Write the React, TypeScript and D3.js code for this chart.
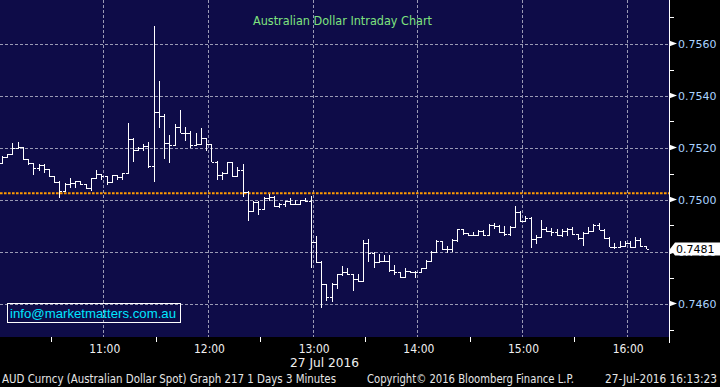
import React from 'react';
import * as d3 from 'd3';

// AUD/USD, 27 Jul 2016, 3 minute bars starting 10:00
const BAR_START = new Date(2016, 6, 27, 10, 0);
const BAR_MINUTES = 3;

const opens = [
  0.75139, 0.75165, 0.75174, 0.75199, 0.75201, 0.75155, 0.75139, 0.75120, 0.75133, 0.75117,
  0.75090, 0.75068, 0.75034, 0.75060, 0.75062, 0.75071, 0.75058, 0.75043, 0.75082, 0.75098,
  0.75090, 0.75068, 0.75094, 0.75085, 0.75101, 0.75232, 0.75190, 0.75199, 0.75206, 0.75130,
  0.75335, 0.75321, 0.75216, 0.75210, 0.75280, 0.75257, 0.75255, 0.75210, 0.75213, 0.75235,
  0.75212, 0.75145, 0.75094, 0.75101, 0.75143, 0.75092, 0.75113, 0.75030, 0.74956, 0.74992,
  0.74963, 0.75007, 0.75011, 0.74975, 0.74983, 0.74994, 0.74983, 0.74982, 0.74998, 0.74994,
  0.74835, 0.74758, 0.74675, 0.74626, 0.74675, 0.74712, 0.74722, 0.74713, 0.74693, 0.74688,
  0.74832, 0.74795, 0.74758, 0.74763, 0.74765, 0.74728, 0.74720, 0.74701, 0.74725, 0.74722,
  0.74722, 0.74735, 0.74765, 0.74797, 0.74840, 0.74808, 0.74808, 0.74844, 0.74885, 0.74870,
  0.74862, 0.74862, 0.74879, 0.74863, 0.74902, 0.74899, 0.74874, 0.74866, 0.74893, 0.74953,
  0.74917, 0.74930, 0.74847, 0.74857, 0.74885, 0.74879, 0.74874, 0.74863, 0.74880, 0.74887,
  0.74867, 0.74853, 0.74870, 0.74880, 0.74902, 0.74883, 0.74853, 0.74818, 0.74818, 0.74822,
  0.74834, 0.74816, 0.74844, 0.74821,
];
const highs = [
  0.75167, 0.75174, 0.75216, 0.75221, 0.75201, 0.75155, 0.75139, 0.75135, 0.75135, 0.75117,
  0.75090, 0.75068, 0.75060, 0.75082, 0.75071, 0.75071, 0.75058, 0.75082, 0.75113, 0.75098,
  0.75090, 0.75094, 0.75094, 0.75101, 0.75293, 0.75233, 0.75201, 0.75212, 0.75221, 0.75665,
  0.75453, 0.75328, 0.75248, 0.75289, 0.75344, 0.75278, 0.75261, 0.75255, 0.75274, 0.75235,
  0.75212, 0.75148, 0.75105, 0.75143, 0.75143, 0.75124, 0.75133, 0.75030, 0.74992, 0.74992,
  0.75008, 0.75020, 0.75013, 0.74985, 0.74994, 0.75005, 0.74998, 0.74998, 0.75005, 0.75013,
  0.74857, 0.74761, 0.74675, 0.74678, 0.74713, 0.74742, 0.74733, 0.74713, 0.74713, 0.74844,
  0.74847, 0.74795, 0.74787, 0.74783, 0.74783, 0.74745, 0.74720, 0.74735, 0.74725, 0.74725,
  0.74735, 0.74767, 0.74799, 0.74842, 0.74840, 0.74818, 0.74847, 0.74885, 0.74885, 0.74870,
  0.74872, 0.74880, 0.74880, 0.74902, 0.74908, 0.74899, 0.74895, 0.74895, 0.74975, 0.74953,
  0.74934, 0.74930, 0.74860, 0.74921, 0.74892, 0.74887, 0.74883, 0.74883, 0.74889, 0.74893,
  0.74867, 0.74872, 0.74893, 0.74905, 0.74906, 0.74883, 0.74853, 0.74832, 0.74838, 0.74840,
  0.74840, 0.74853, 0.74851, 0.74821,
];
const lows = [
  0.75139, 0.75165, 0.75174, 0.75199, 0.75152, 0.75133, 0.75097, 0.75110, 0.75105, 0.75090,
  0.75065, 0.75008, 0.75034, 0.75047, 0.75047, 0.75056, 0.75043, 0.75034, 0.75082, 0.75078,
  0.75058, 0.75065, 0.75078, 0.75078, 0.75101, 0.75145, 0.75188, 0.75187, 0.75122, 0.75068,
  0.75278, 0.75158, 0.75142, 0.75210, 0.75257, 0.75226, 0.75199, 0.75210, 0.75212, 0.75188,
  0.75145, 0.75078, 0.75078, 0.75101, 0.75090, 0.75092, 0.75013, 0.74918, 0.74956, 0.74944,
  0.74963, 0.74995, 0.74972, 0.74968, 0.74972, 0.74982, 0.74979, 0.74982, 0.74992, 0.74739,
  0.74758, 0.74584, 0.74611, 0.74607, 0.74658, 0.74706, 0.74713, 0.74649, 0.74684, 0.74684,
  0.74763, 0.74738, 0.74758, 0.74761, 0.74725, 0.74713, 0.74701, 0.74701, 0.74720, 0.74701,
  0.74722, 0.74735, 0.74765, 0.74795, 0.74808, 0.74795, 0.74799, 0.74840, 0.74866, 0.74861,
  0.74862, 0.74862, 0.74862, 0.74861, 0.74889, 0.74872, 0.74861, 0.74863, 0.74893, 0.74915,
  0.74917, 0.74815, 0.74832, 0.74857, 0.74876, 0.74863, 0.74861, 0.74857, 0.74863, 0.74866,
  0.74848, 0.74822, 0.74870, 0.74876, 0.74883, 0.74851, 0.74818, 0.74810, 0.74815, 0.74822,
  0.74815, 0.74816, 0.74821, 0.74810,
];
const closes = [
  0.75165, 0.75174, 0.75199, 0.75201, 0.75155, 0.75139, 0.75120, 0.75133, 0.75117, 0.75090,
  0.75068, 0.75034, 0.75060, 0.75062, 0.75071, 0.75058, 0.75043, 0.75082, 0.75098, 0.75090,
  0.75068, 0.75094, 0.75085, 0.75101, 0.75232, 0.75190, 0.75199, 0.75206, 0.75130, 0.75335,
  0.75321, 0.75216, 0.75210, 0.75280, 0.75257, 0.75255, 0.75210, 0.75213, 0.75235, 0.75212,
  0.75145, 0.75094, 0.75101, 0.75143, 0.75092, 0.75113, 0.75030, 0.74956, 0.74992, 0.74963,
  0.75007, 0.75011, 0.74975, 0.74983, 0.74994, 0.74983, 0.74982, 0.74998, 0.74994, 0.74835,
  0.74758, 0.74675, 0.74626, 0.74675, 0.74712, 0.74722, 0.74713, 0.74693, 0.74688, 0.74832,
  0.74795, 0.74758, 0.74763, 0.74765, 0.74728, 0.74720, 0.74701, 0.74725, 0.74722, 0.74722,
  0.74735, 0.74765, 0.74797, 0.74840, 0.74808, 0.74808, 0.74844, 0.74885, 0.74870, 0.74862,
  0.74862, 0.74879, 0.74863, 0.74902, 0.74899, 0.74874, 0.74866, 0.74893, 0.74953, 0.74917,
  0.74930, 0.74847, 0.74857, 0.74885, 0.74879, 0.74874, 0.74863, 0.74880, 0.74887, 0.74867,
  0.74853, 0.74870, 0.74880, 0.74902, 0.74883, 0.74853, 0.74818, 0.74818, 0.74822, 0.74834,
  0.74816, 0.74844, 0.74821, 0.74810,
];

const PREV_CLOSE = 0.75024;
const LAST_PRICE = 0.7481;

const hourTicks = ['11:00', '12:00', '13:00', '14:00', '15:00', '16:00'];
const halfHourTicks = ['10:30', '11:30', '12:30', '13:30', '14:30', '15:30'];
const priceTicks = [0.746, 0.748, 0.75, 0.752, 0.754, 0.756];
const priceMinorTicks = [0.745, 0.747, 0.749, 0.751, 0.753, 0.755, 0.757];

const TITLE = 'Australian Dollar Intraday Chart';
const DATE_LABEL = '27 Jul 2016';
const EMAIL = 'info@marketmatters.com.au';
const FOOT_LEFT = 'AUD Curncy (Australian Dollar Spot) Graph 217 1 Days 3 Minutes';
const FOOT_MID = 'Copyright\u00a9 2016 Bloomberg Finance L.P.';
const FOOT_RIGHT = '27-Jul-2016 16:13:23';

const W = 720;
const H = 387;
const PLOT_R = 669;
const PLOT_B = 337;

const NAVY = '#0e0c48';
const GRID = '#9a9ab4';

const parseHM = (s: string) => {
  const [h, m] = s.split(':').map(Number);
  return new Date(2016, 6, 27, h, m);
};

const App = () => {
  const x = d3
    .scaleTime()
    .domain([new Date(2016, 6, 27, 10, 0), new Date(2016, 6, 27, 16, 0)])
    .range([-1.4, 626.7]);
  const y = d3.scaleLinear().domain([0.744, 0.758]).range([355.5, -8.5]);
  const crisp = (v: number) => Math.round(v) + 0.5;

  const bars = closes.map((c, i) => ({
    t: d3.timeMinute.offset(BAR_START, BAR_MINUTES * i),
    o: opens[i],
    h: highs[i],
    l: lows[i],
    c,
  }));
  const half = 2.7;
  const fmt = d3.format('.4f');
  const lastY = y(LAST_PRICE);

  const condensed = "'DejaVu Sans Condensed', 'Liberation Sans Narrow', 'DejaVu Sans', sans-serif";

  return (
    <div style={{ position: 'fixed', left: 0, top: 0, width: W, height: H, background: '#000' }}>
      <svg width={W} height={H} style={{ display: 'block' }}>
        <rect x={0} y={0} width={W} height={H} fill="#000" />
        <rect x={0} y={0} width={PLOT_R} height={PLOT_B} fill={NAVY} />

        {/* grid */}
        <g stroke={GRID} strokeWidth={1} strokeDasharray="3,2" fill="none">
          {hourTicks.map((h) => (
            <line key={h} x1={crisp(x(parseHM(h)))} x2={crisp(x(parseHM(h)))} y1={0} y2={PLOT_B} />
          ))}
          {priceTicks.map((p) => (
            <line key={p} x1={0} x2={PLOT_R} y1={crisp(y(p))} y2={crisp(y(p))} />
          ))}
        </g>

        {/* previous close */}
        <line
          x1={0}
          x2={PLOT_R}
          y1={y(PREV_CLOSE)}
          y2={y(PREV_CLOSE)}
          stroke="#ff9a00"
          strokeWidth={2.2}
          strokeDasharray="2.6,1.4"
        />

        {/* OHLC bars */}
        <g stroke="#fff" strokeWidth={1.2} shapeRendering="crispEdges">
          {bars.map((b, i) => {
            const cx = crisp(x(b.t) + 3.3);
            return (
              <g key={i}>
                <line x1={cx} x2={cx} y1={y(b.h) - 0.5} y2={y(b.l) + 0.5} />
                <line x1={cx - half} x2={cx} y1={crisp(y(b.o))} y2={crisp(y(b.o))} />
                <line x1={cx} x2={cx + half} y1={crisp(y(b.c))} y2={crisp(y(b.c))} />
              </g>
            );
          })}
        </g>

        {/* title */}
        <text
          x={253}
          y={25}
          fill="#7fe37f"
          fontFamily="'DejaVu Sans', sans-serif"
          fontSize={12.5}
          textLength={179}
          lengthAdjust="spacingAndGlyphs"
        >
          {TITLE}
        </text>

        {/* email box */}
        <rect x={7.5} y={303.5} width={173} height={19} fill="none" stroke="#fff" strokeWidth={1} />
        <text
          x={10}
          y={318}
          fill="#00e6ff"
          fontFamily="'Liberation Sans', Arial, sans-serif"
          fontSize={13.5}
          textLength={166}
          lengthAdjust="spacingAndGlyphs"
        >
          {EMAIL}
        </text>

        {/* right axis */}
        <line x1={PLOT_R + 0.5} x2={PLOT_R + 0.5} y1={0} y2={PLOT_B + 6} stroke="#fff" strokeWidth={1} />
        {priceMinorTicks.map((p) => (
          <line key={p} x1={PLOT_R} x2={PLOT_R + 5} y1={crisp(y(p))} y2={crisp(y(p))} stroke="#fff" strokeWidth={1} />
        ))}
        {priceTicks.map((p) => {
          const py = y(p);
          return (
            <g key={p}>
              <path d={`M${PLOT_R},${py - 3}L${PLOT_R + 8},${py}L${PLOT_R},${py + 3}Z`} fill="#fff" />
              <text
                x={678}
                y={py + 4}
                fill="#a9d3ff"
                fontFamily="'DejaVu Sans', sans-serif"
                fontSize={11}
              >
                {fmt(p)}
              </text>
            </g>
          );
        })}

        {/* last price tag */}
        <path
          d={`M${PLOT_R + 1},${lastY}L${PLOT_R + 6},${lastY - 6.5}L${W},${lastY - 6.5}L${W},${lastY + 6.5}L${PLOT_R + 6},${lastY + 6.5}Z`}
          fill="#fff"
        />
        <text x={676} y={lastY + 4} fill="#000" fontFamily="'DejaVu Sans', sans-serif" fontSize={11}>
          {fmt(LAST_PRICE)}
        </text>

        {/* bottom axis */}
        {halfHourTicks.map((h) => (
          <line
            key={h}
            x1={crisp(x(parseHM(h)))}
            x2={crisp(x(parseHM(h)))}
            y1={PLOT_B}
            y2={PLOT_B + 5}
            stroke="#fff"
            strokeWidth={1}
          />
        ))}
        {hourTicks.map((h) => (
          <text
            key={h}
            x={x(parseHM(h)) + 1.5}
            y={353}
            fill="#f0f0f0"
            textAnchor="middle"
            fontFamily={condensed}
            fontSize={12.5}
            textLength={31}
            lengthAdjust="spacingAndGlyphs"
          >
            {h}
          </text>
        ))}
        <text
          x={290}
          y={367}
          fill="#f0f0f0"
          fontFamily={condensed}
          fontSize={12.5}
          textLength={69}
          lengthAdjust="spacingAndGlyphs"
        >
          {DATE_LABEL}
        </text>

        {/* footer */}
        <g fill="#e6e6e6" fontFamily={condensed} fontSize={12}>
          <text x={2} y={383} textLength={334} lengthAdjust="spacingAndGlyphs">
            {FOOT_LEFT}
          </text>
          <text x={367} y={383} textLength={207} lengthAdjust="spacingAndGlyphs">
            {FOOT_MID}
          </text>
          <text x={605} y={383} textLength={112} lengthAdjust="spacingAndGlyphs">
            {FOOT_RIGHT}
          </text>
        </g>
      </svg>
    </div>
  );
};

export default App;
